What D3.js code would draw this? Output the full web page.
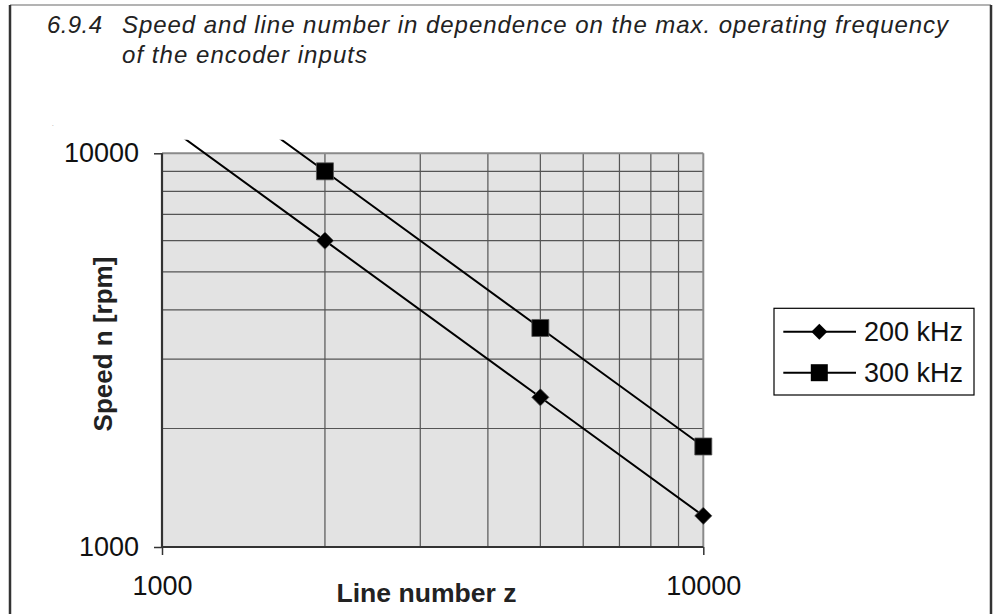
<!DOCTYPE html>
<html>
<head>
<meta charset="utf-8">
<script src="https://cdn.jsdelivr.net/npm/d3@7"></script>
<style>
  html, body { margin: 0; padding: 0; background: #fff; }
  svg { display: block; font-family: "Liberation Sans", Arial, Helvetica, sans-serif; }
</style>
</head>
<body>
<svg id="chart" width="995" height="614"></svg>
<script>
// ---- data ----
const lineNumbers = [1000, 2000, 5000, 10000];          // z
const speed200kHz = [12000, 6000, 2400, 1200];           // n [rpm] at 200 kHz
const speed300kHz = [18000, 9000, 3600, 1800];           // n [rpm] at 300 kHz
const seriesNames = ["200 kHz", "300 kHz"];
const axisTicks = [1000, 10000];
const gridValues = [2000, 3000, 4000, 5000, 6000, 7000, 8000, 9000];
const titleNumber = "6.9.4";
const titleLines = ["Speed and line number in dependence on the max. operating frequency", "of the encoder inputs"];
const xTitle = "Line number z";
const yTitle = "Speed n [rpm]";

// ---- layout ----
const svg = d3.select("#chart");
const L = 162, R = 703.3, T = 153.3, B = 547;
const x = d3.scaleLog().domain([1000, 10000]).range([L, R]);
const y = d3.scaleLog().domain([1000, 10000]).range([B, T]);

// outer frame
svg.append("line").attr("x1", 10).attr("x2", 991).attr("y1", 5).attr("y2", 5)
  .attr("stroke", "#9a9a9a").attr("stroke-width", 1.5);
svg.append("line").attr("x1", 10).attr("x2", 10).attr("y1", 5).attr("y2", 614)
  .attr("stroke", "#333").attr("stroke-width", 2.5);
svg.append("line").attr("x1", 991).attr("x2", 991).attr("y1", 5).attr("y2", 614)
  .attr("stroke", "#333").attr("stroke-width", 2.5);

// title
svg.append("text").attr("x", 47).attr("y", 33.3)
  .attr("font-size", 24).attr("font-style", "italic").attr("fill", "#222")
  .attr("textLength", 55).attr("lengthAdjust", "spacing")
  .text(titleNumber);
svg.append("text").attr("x", 122).attr("y", 33.3)
  .attr("font-size", 24).attr("font-style", "italic").attr("fill", "#222")
  .attr("textLength", 826).attr("lengthAdjust", "spacing")
  .text(titleLines[0]);
svg.append("text").attr("x", 122).attr("y", 63.3)
  .attr("font-size", 24).attr("font-style", "italic").attr("fill", "#222")
  .attr("textLength", 245).attr("lengthAdjust", "spacing")
  .text(titleLines[1]);

// stray dot
svg.append("text").attr("x", 52).attr("y", 126).attr("font-size", 6).attr("fill", "#666").text(".");

// plot background
svg.append("rect").attr("x", L).attr("y", T).attr("width", R - L).attr("height", B - T)
  .attr("fill", "#e3e3e3");

// gridlines
const g = svg.append("g");
g.selectAll(".vg").data(gridValues).join("line")
  .attr("x1", d => x(d)).attr("x2", d => x(d)).attr("y1", T).attr("y2", B)
  .attr("stroke", "#555").attr("stroke-width", 1.2);
g.selectAll(".hg").data(gridValues).join("line")
  .attr("y1", d => y(d)).attr("y2", d => y(d)).attr("x1", L).attr("x2", R)
  .attr("stroke", "#555").attr("stroke-width", 1.2);

// plot border top/right
svg.append("line").attr("x1", L).attr("x2", R).attr("y1", T).attr("y2", T)
  .attr("stroke", "#8a8a8a").attr("stroke-width", 2);
svg.append("line").attr("x1", R).attr("x2", R).attr("y1", T).attr("y2", B)
  .attr("stroke", "#8a8a8a").attr("stroke-width", 2);

// axes
const yAxis = d3.axisLeft(y).tickValues(axisTicks).tickFormat(d3.format("d")).tickSize(8).tickPadding(15).tickSizeOuter(0);
const ya = svg.append("g").attr("transform", `translate(${L},0)`).call(yAxis);
ya.select(".domain").remove();
ya.selectAll("line").attr("stroke", "#333").attr("stroke-width", 1.5);
ya.selectAll("text").attr("font-size", 27).attr("fill", "#111")
  .attr("font-family", "'Liberation Sans', Arial, sans-serif");

const xAxis = d3.axisBottom(x).tickValues(axisTicks).tickFormat(d3.format("d")).tickSize(8).tickSizeOuter(0);
const xa = svg.append("g").attr("transform", `translate(0,${B})`).call(xAxis);
xa.select(".domain").remove();
xa.selectAll("line").attr("stroke", "#333").attr("stroke-width", 1.5);
xa.selectAll("text").attr("font-size", 27).attr("fill", "#111").attr("y", 48).attr("dy", 0)
  .attr("font-family", "'Liberation Sans', Arial, sans-serif");

svg.append("line").attr("x1", L).attr("x2", L).attr("y1", T).attr("y2", B + 1)
  .attr("stroke", "#333").attr("stroke-width", 2.2);
svg.append("line").attr("x1", L - 1).attr("x2", R).attr("y1", B).attr("y2", B)
  .attr("stroke", "#333").attr("stroke-width", 2.2);

// axis titles
svg.append("text").attr("x", 426.5).attr("y", 601.7).attr("text-anchor", "middle")
  .attr("font-size", 25).attr("font-weight", "bold").attr("fill", "#222")
  .attr("textLength", 180).attr("lengthAdjust", "spacingAndGlyphs").text(xTitle);
svg.append("text").attr("transform", "translate(112,344) rotate(-90)").attr("text-anchor", "middle")
  .attr("font-size", 26).attr("font-weight", "bold").attr("fill", "#222").text(yTitle);

// clip for series lines (extends a little above the plot top)
svg.append("clipPath").attr("id", "clip").append("rect")
  .attr("x", L).attr("y", T - 13.5).attr("width", R - L + 20).attr("height", B - T + 13.5);

const series = [
  { name: seriesNames[0], values: speed200kHz, shape: "diamond" },
  { name: seriesNames[1], values: speed300kHz, shape: "square" }
];
const line = d3.line().x(d => x(d[0])).y(d => y(d[1]));
function diamondPath(s) {
  return `M0,${-s}L${s},0L0,${s}L${-s},0Z`;
}

series.forEach(s => {
  const pts = lineNumbers.map((z, i) => [z, s.values[i]]);
  svg.append("path").attr("d", line(pts)).attr("fill", "none")
    .attr("stroke", "#000").attr("stroke-width", 2).attr("clip-path", "url(#clip)");
  const visible = pts.filter(p => p[1] <= y.domain()[1]);
  svg.selectAll(null).data(visible).join("path")
    .attr("transform", d => `translate(${x(d[0])},${y(d[1])})`)
    .attr("d", s.shape === "square" ? "M-8.5,-8.5H8.5V8.5H-8.5Z" : diamondPath(8.6))
    .attr("fill", "#000").attr("stroke", "#555").attr("stroke-width", 0.8);
});

// legend
const lg = svg.append("g");
lg.append("rect").attr("x", 774).attr("y", 308.3).attr("width", 200).attr("height", 86.7)
  .attr("fill", "#fff").attr("stroke", "#000").attr("stroke-width", 1.2);
series.forEach((s, i) => {
  const cy = 331.7 + i * 41;
  lg.append("line").attr("x1", 783.3).attr("x2", 856).attr("y1", cy).attr("y2", cy)
    .attr("stroke", "#000").attr("stroke-width", 2);
  lg.append("path").attr("transform", `translate(819.3,${cy})`)
    .attr("d", s.shape === "square" ? "M-8.5,-8.5H8.5V8.5H-8.5Z" : diamondPath(8))
    .attr("fill", "#000");
  lg.append("text").attr("x", 864).attr("y", cy + 9).attr("font-size", 27).attr("fill", "#111")
    .text(s.name);
});
</script>
</body>
</html>
